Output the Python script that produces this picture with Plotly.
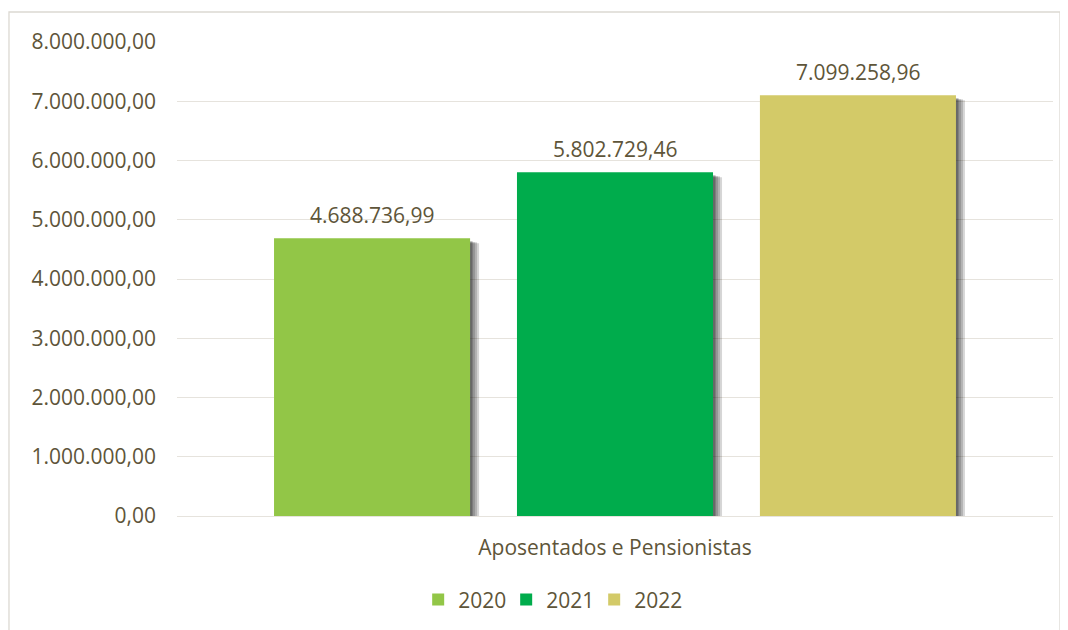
import plotly.graph_objects as go

categories = ["Aposentados e Pensionistas"]
series_names = ["2020", "2021", "2022"]
values = [[4688736.99], [5802729.46], [7099258.96]]
colors = ["#92c647", "#00ac4c", "#d3ca68"]
y_ticks = [0, 1000000, 2000000, 3000000, 4000000, 5000000, 6000000, 7000000, 8000000]
y_max = 8000000

text_color = "#5e5539"
font_family = "Open Sans, Noto Sans, sans-serif"
fsize = 21

plot_w, plot_h = 876, 474
shadow_layers = [(2, 3), (3, 3), (5, 4), (7, 4), (9, 5)]  # pixel offsets (dx, dy)

fig = go.Figure()

# base axes: invisible bars to establish category axis
for name, vals in zip(series_names, values):
    fig.add_trace(go.Bar(x=categories, y=vals, name=name, showlegend=False,
                         marker=dict(color="rgba(0,0,0,0)", line=dict(width=0)),
                         hoverinfo="skip"))

layout_axes = {}
n = 2
for dx, dy in shadow_layers:
    d = dx / plot_w
    e = dy * y_max / plot_h
    layout_axes[f"xaxis{n}"] = dict(overlaying="x", type="category", range=[-0.5 - d, 0.5 - d],
                                    visible=False, showgrid=False)
    layout_axes[f"yaxis{n}"] = dict(overlaying="y", range=[0 + e, y_max + e],
                                    visible=False, showgrid=False)
    for name, vals in zip(series_names, values):
        fig.add_trace(go.Bar(x=categories, y=vals, name=name, showlegend=False,
                             xaxis=f"x{n}", yaxis=f"y{n}", hoverinfo="skip",
                             marker=dict(color="rgba(0,0,0,0.16)", line=dict(width=0))))
    n += 1

layout_axes[f"xaxis{n}"] = dict(overlaying="x", type="category", range=[-0.5, 0.5],
                                visible=False, showgrid=False)
layout_axes[f"yaxis{n}"] = dict(overlaying="y", range=[0, y_max], visible=False, showgrid=False)

annotations = []
slot_px = 243
for i, (name, vals, col) in enumerate(zip(series_names, values, colors)):
    fig.add_trace(go.Bar(
        x=categories, y=vals, name=name, xaxis=f"x{n}", yaxis=f"y{n}",
        marker=dict(color=col, line=dict(width=0)),
    ))
    for c, v in zip(categories, vals):
        annotations.append(dict(
            x=c, y=v, xref="x", yref="y", showarrow=False,
            text=f"{v:,.2f}".replace(",", "X").replace(".", ",").replace("X", "."),
            xshift=(i - 1) * slot_px, yshift=23, yanchor="middle",
            font=dict(size=fsize, color=text_color, family=font_family),
        ))

fig.update_layout(
    width=1068, height=630,
    separators=",.",
    barmode="group", bargap=0.168, bargroupgap=0.193,
    plot_bgcolor="white", paper_bgcolor="white",
    margin=dict(l=169, r=23, t=34, b=122),
    font=dict(family=font_family, size=fsize, color=text_color),
    yaxis=dict(range=[0, y_max], tickvals=y_ticks, tickformat=",.2f",
               showgrid=True, gridcolor="#e6e3dd", gridwidth=1.3,
               zeroline=True, zerolinecolor="#e6e3dd", zerolinewidth=1.3,
               ticklabelstandoff=20, tickfont=dict(size=fsize, color=text_color)),
    xaxis=dict(showline=False, ticks="", ticklabelstandoff=17, range=[-0.5, 0.5],
               tickfont=dict(size=fsize, color=text_color)),
    legend=dict(orientation="h", x=0.426, xanchor="center", y=-0.177, yanchor="middle",
                font=dict(size=fsize, color=text_color), itemwidth=30, entrywidth=43,
                traceorder="normal"),
    showlegend=True,
    annotations=annotations,
    shapes=[dict(type="rect", xref="paper", yref="paper",
                 x0=-0.1918, x1=1.008, y0=-0.25, y1=1.0633,
                 line=dict(color="#dcd9d2", width=1.3), fillcolor="rgba(0,0,0,0)", layer="below")],
    **layout_axes,
)

fig.write_html("out.html")
